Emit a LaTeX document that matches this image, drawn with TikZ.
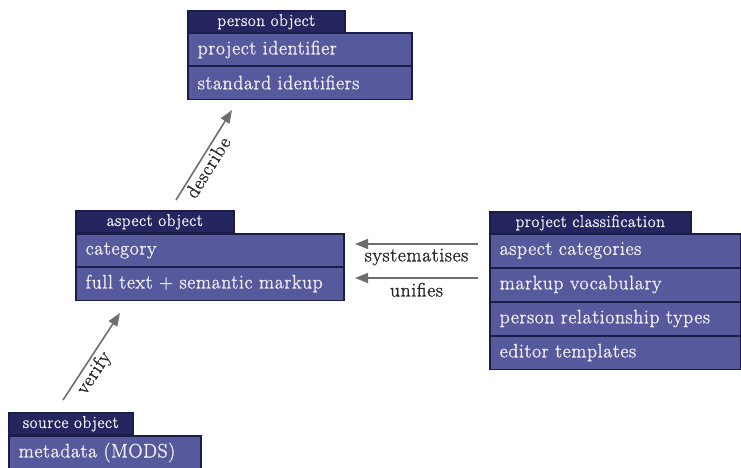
\documentclass[tikz,border=0pt]{standalone}
\usepackage{fontspec}
\setmainfont{Latin Modern Roman}[LetterSpace=3.5, FakeBold=1.3]
\usetikzlibrary{arrows.meta}
\definecolor{tabc}{HTML}{25255F}
\definecolor{rowc}{HTML}{56599B}
\definecolor{edgec}{HTML}{1C1C48}
\definecolor{txtc}{HTML}{F0F0F4}
\definecolor{arrc}{HTML}{6E6E6E}
\tikzset{
 box/.style={draw=edgec, line width=1.5pt, anchor=north west, inner ysep=0pt, text=txtc},
 tabbox/.style={box, fill=tabc, font=\fontsize{17}{17}\selectfont, minimum height=22pt, inner xsep=0pt, align=center},
 rowbox/.style={box, fill=rowc, font=\fontsize{19.5}{19.5}\selectfont, minimum height=33.5pt, inner xsep=10pt, align=left},
 link/.style={draw=arrc, line width=1.6pt, -{Triangle[length=13pt,width=10pt]}},
 lbl/.style={font=\fontsize{19.5}{19.5}\selectfont, text=black!85, inner sep=4pt}
}
\begin{document}
\begin{tikzpicture}[x=1pt,y=-1pt]
\useasboundingbox (0,0) rectangle (741,467);
% person object
\node[tabbox, minimum width=157pt] (pt) at (187,10) {person object};
\node[rowbox, text width=204pt] (p1) at (187,32) {project identifier};
\node[rowbox, text width=204pt] (p2) at (187,65) {standard identifiers};
% aspect object
\node[tabbox, minimum width=158pt] (at) at (75,210) {aspect object};
\node[rowbox, text width=248pt] (a1) at (75,233) {category};
\node[rowbox, text width=248pt] (a2) at (75,266) {full text + semantic markup};
% project classification
\node[tabbox, minimum width=201pt] (ct) at (489,211) {project classification};
\node[rowbox, text width=231pt] (c1) at (489,233) {aspect categories};
\node[rowbox, text width=231pt] (c2) at (489,267) {markup vocabulary};
\node[rowbox, text width=231pt] (c3) at (489,301) {person relationship types};
\node[rowbox, text width=231pt] (c4) at (489,335) {editor templates};
% source object
\node[tabbox, minimum width=124pt] (st) at (8,412) {source object};
\node[rowbox, text width=172pt] (s1) at (8,435) {metadata (MODS)};
% connectors
\coordinate (d0) at (176,200); \coordinate (d1) at (232,110);
\draw[link] (d0) -- node[lbl, sloped, below, pos=0.42, inner sep=2pt] (dl) {describe} (d1);
\coordinate (v0) at (63,400); \coordinate (v1) at (120,313);
\draw[link] (v0) -- node[lbl, sloped, below, pos=0.38, inner sep=2pt] (vl) {verify} (v1);
\coordinate (y0) at (478,244); \coordinate (y1) at (355,244);
\draw[link] (y0) -- node[lbl, below] (yl) {systematises} (y1);
\coordinate (u0) at (478,278); \coordinate (u1) at (355,278);
\draw[link] (u0) -- node[lbl, below] (ul) {unifies} (u1);
\end{tikzpicture}
\end{document}
